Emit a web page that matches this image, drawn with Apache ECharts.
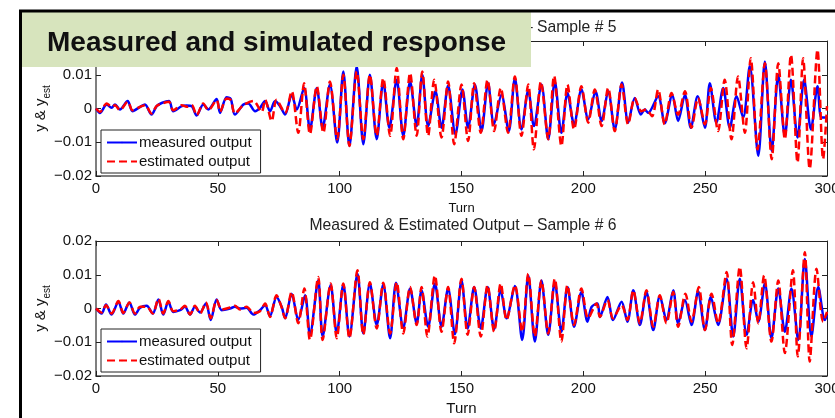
<!DOCTYPE html>
<html>
<head>
<meta charset="utf-8">
<script src="https://cdn.jsdelivr.net/npm/echarts@6/dist/echarts.min.js"></script>
<style>
  html, body { margin: 0; padding: 0; background: #fff; }
  #chart { width: 835px; height: 418px; }
</style>
</head>
<body>
<div id="chart"></div>
<script>
// turn, value in units of 1e-3 (peaks and troughs)
const s5Measured = [
  [0,0],[1.6,-1.3],[4.4,1.2],[6.4,0.2],[7.8,1.2],[9.8,-0.3],[13.0,2.2],[15.0,-0.8],[18.1,0.5],[20.1,1.2],
  [22.8,-1.8],[24.9,0.7],[27.2,1.7],[30.0,2.2],[31.7,-0.8],[35.2,0.7],[37.2,0.9],[39.3,0.7],[41.3,-2.1],[44.0,1.2],
  [46.1,-0.3],[49.5,2.8],[50.9,-1.3],[53.6,3.3],[55.3,2.8],[57.0,-1.8],[60.5,1.2],[62.5,1.5],[65.3,-0.8],[67.3,0.2],
  [69.4,2.2],[71.4,-0.8],[73.5,2.2],[75.5,0.7],[77.6,-1.8],[80.3,4.1],[82.4,-0.3],[85.4,6.1],[87.8,-6.2],[90.6,6.1],
  [93.0,-5.7],[96.0,7.1],[99.0,-10.1],[101.5,11.0],[104.0,-11.1],[107.0,12.5],[109.7,-10.6],[112.4,10.0],[115.2,-9.1],[117.9,8.0],
  [120.4,-5.7],[123.4,8.5],[126.1,-8.1],[128.9,8.0],[131.6,-5.2],[133.9,10.0],[136.3,-5.2],[139.3,5.1],[141.8,-5.7],[144.5,6.8],
  [147.5,-7.6],[150.4,5.6],[152.7,-5.7],[155.5,7.1],[158.2,-6.7],[160.9,7.5],[163.3,-4.7],[166.4,4.1],[169.4,-6.7],[171.9,9.0],
  [174.6,-6.2],[177.4,5.4],[179.7,-5.2],[182.8,7.1],[185.6,-9.1],[188.3,8.0],[191.0,-7.2],[193.5,4.6],[196.2,-4.7],[199.2,5.6],
  [202.0,-3.2],[205.0,5.1],[207.5,-3.7],[210.2,5.1],[212.9,-6.2],[215.9,7.7],[218.4,-4.2],[221.1,3.1],[223.6,-1.8],[225.2,-0.3],
  [226.6,-1.3],[230.7,3.6],[233.4,-4.4],[236.5,4.1],[238.9,-3.7],[241.7,4.1],[244.1,-5.7],[246.9,3.6],[249.9,-5.7],[251.9,7.5],
  [254.6,-4.2],[257.4,6.1],[260.1,-5.7],[262.9,3.6],[265.6,-2.7],[268.3,12.5],[271.8,-14.0],[274.5,13.9],[277.3,-12.5],[280.0,10.0],
  [282.7,-8.1],[285.2,8.5],[287.9,-8.6],[290.6,8.5],[293.4,-6.2],[296.1,6.6],[297.7,-2.7],[300,-2.7]
]
const s5Estimated = [
  [0,0],[1.6,-1.0],[4.4,1.5],[6.4,0.5],[7.8,1.0],[9.8,-0.5],[13.0,2.0],[15.0,-0.5],[18.1,0.5],[20.1,1.0],
  [22.8,-1.5],[24.9,0.8],[27.2,1.5],[30.0,2.0],[31.7,-0.5],[35.2,1.0],[37.2,0.5],[39.3,1.0],[41.3,-2.0],[44.0,1.5],
  [46.1,-0.5],[49.5,2.5],[50.9,-1.0],[53.6,3.0],[55.3,2.5],[57.0,-1.5],[60.5,1.0],[64.6,2.2],[68.0,-1.0],[69.4,2.6],
  [72.1,-3.7],[74.1,2.6],[77.6,-1.3],[80.3,5.1],[83.0,-7.2],[85.4,7.5],[87.8,-7.6],[90.6,6.6],[93.3,-7.2],[96.0,8.0],
  [99.0,-9.1],[101.5,10.0],[104.0,-11.1],[107.0,11.0],[109.7,-9.1],[112.4,10.0],[115.2,-8.1],[117.9,9.0],[120.7,-8.1],[123.4,12.0],
  [126.1,-9.1],[128.9,10.5],[131.6,-8.1],[133.9,11.0],[136.3,-8.1],[138.8,8.5],[141.8,-8.6],[144.5,8.0],[147.0,-10.6],[150.0,7.1],
  [152.7,-9.6],[155.2,7.5],[157.9,-7.2],[160.7,8.5],[163.4,-6.7],[166.1,6.1],[169.1,-7.2],[171.9,9.5],[174.6,-8.1],[177.4,7.1],
  [179.7,-12.1],[182.6,8.0],[185.6,-9.1],[188.0,9.7],[191.0,-11.1],[193.5,7.1],[196.2,-6.2],[199.2,6.6],[202.0,-4.2],[204.7,5.6],
  [207.5,-5.2],[210.2,6.1],[212.9,-6.7],[215.7,7.1],[218.4,-4.7],[221.1,3.1],[223.8,-0.8],[225.8,-0.3],[228.2,-2.3],[230.7,5.6],
  [233.4,-4.7],[236.2,4.6],[238.9,-1.8],[241.7,5.1],[244.4,-5.7],[247.1,3.1],[249.9,-4.7],[252.3,6.1],[255.3,-6.7],[258.0,8.5],
  [260.8,-9.1],[263.5,9.5],[266.3,-7.2],[268.7,14.9],[271.5,-12.1],[274.5,13.4],[277.3,-15.0],[280.0,13.4],[282.7,-9.1],[285.2,15.9],
  [287.9,-16.0],[290.2,14.9],[292.9,-17.9],[296.1,17.4],[298.4,-15.0],[300,0.7]
]
const s6Measured = [
  [0,0],[2.3,-1.5],[4.1,1.2],[6.4,-1.8],[9.2,2.0],[11.2,-1.5],[13.7,1.8],[16.0,-1.8],[18.1,0.2],[20.8,0.8],
  [23.3,-1.5],[25.6,2.7],[27.6,-1.8],[29.7,2.0],[31.7,-1.0],[34.5,-0.5],[36.5,0.5],[38.6,-1.8],[40.6,0.5],[42.7,-1.2],
  [45.1,1.5],[47.1,-3.4],[49.5,2.7],[51.6,-0.5],[55.0,0],[57.0,0.5],[59.1,0],[61.8,0.2],[64.6,-1.8],[67.3,-0.5],
  [69.4,1.0],[71.4,-2.2],[74.1,3.4],[76.2,0.5],[77.6,-2.9],[80.3,4.4],[83.0,-3.4],[85.8,3.9],[87.8,-7.8],[91.2,8.3],
  [93.0,-8.3],[96.3,6.9],[98.8,-7.4],[101.5,7.1],[104.0,-8.3],[107.3,10.3],[109.7,-7.4],[112.4,7.4],[115.2,-4.9],[117.9,7.1],
  [120.7,-8.8],[123.1,7.6],[126.1,-5.7],[128.9,5.9],[131.6,-4.4],[133.6,5.4],[136.3,-5.4],[139.1,7.4],[141.8,-5.4],[144.5,5.9],
  [147.3,-7.6],[150.0,8.3],[152.5,-5.9],[155.2,6.4],[157.9,-5.9],[160.7,6.4],[163.4,-6.1],[166.1,5.4],[168.5,-2.9],[171.9,6.7],
  [174.9,-9.3],[177.4,9.8],[180.1,-9.8],[182.8,8.3],[185.6,-7.8],[188.3,7.8],[191.0,-6.9],[193.5,6.4],[196.2,-5.4],[199.2,4.9],
  [201.7,-3.9],[203.4,0.5],[205.8,1.5],[206.8,-2.5],[209.9,3.4],[212.2,-3.4],[215.7,2.0],[218.1,-3.9],[220.5,5.4],[223.2,-4.9],
  [225.9,4.9],[228.7,-6.4],[231.4,3.7],[234.1,-3.4],[236.9,5.4],[238.9,-4.4],[241.7,2.5],[244.4,-4.9],[247.1,5.1],[249.9,-6.4],
  [252.3,3.4],[255.3,-4.9],[258.8,8.8],[261.5,-8.3],[264.2,8.8],[267.0,-7.8],[269.7,2.5],[271.8,-3.9],[274.5,7.4],[277.2,-8.8],
  [280.0,5.9],[282.7,-6.9],[285.4,5.9],[288.2,-9.3],[290.9,14.7],[293.6,-8.3],[296.4,6.4],[299.1,-3.4],[300,-2.0]
]
const s6Estimated = [
  [0,0],[2.3,-1.2],[4.1,1.0],[6.4,-1.5],[9.2,2.2],[11.2,-1.3],[13.7,1.8],[16.0,-1.5],[18.1,0.5],[20.8,0.5],
  [23.3,-1.5],[25.6,2.9],[27.6,-1.5],[29.7,2.2],[31.7,-0.8],[34.5,-0.3],[36.5,0.8],[38.6,-1.8],[40.6,0.8],[42.7,-1.5],
  [45.1,1.8],[47.1,-2.9],[49.5,2.5],[51.6,-0.3],[55.0,0.3],[57.0,0.8],[59.1,-0.3],[61.8,0.5],[64.6,-1.3],[67.3,-0.8],
  [69.4,1.5],[71.4,-2.5],[74.1,3.9],[76.2,0.3],[77.6,-2.9],[80.3,4.9],[83.0,-4.4],[85.5,5.9],[87.8,-9.3],[91.2,9.3],
  [93.0,-9.3],[96.3,7.4],[98.8,-8.8],[101.5,7.4],[104.0,-8.8],[107.3,11.3],[109.7,-7.8],[112.4,7.8],[115.2,-5.9],[117.9,7.6],
  [120.7,-7.4],[123.4,7.8],[126.1,-7.4],[128.9,6.4],[131.6,-4.9],[133.6,6.4],[136.0,-8.3],[139.1,9.8],[141.8,-6.9],[144.5,6.4],
  [147.0,-10.3],[150.0,8.8],[152.5,-7.8],[155.2,6.4],[157.9,-8.3],[160.7,6.9],[163.4,-6.9],[166.1,7.4],[168.5,-3.4],[171.9,6.9],
  [174.9,-6.9],[177.4,10.3],[180.1,-8.3],[182.8,8.3],[185.6,-7.4],[188.3,8.8],[191.0,-9.8],[193.5,6.9],[196.2,-4.9],[199.2,5.9],
  [202.0,-2.9],[205.4,1.5],[206.8,-2.5],[209.9,2.5],[212.2,-2.9],[215.7,1.0],[218.1,-3.4],[220.5,5.4],[223.2,-4.4],[225.9,5.4],
  [228.7,-5.4],[231.4,3.9],[234.1,-4.4],[236.9,4.9],[238.9,-5.4],[241.9,4.4],[244.4,-3.9],[247.4,6.4],[249.9,-6.4],[252.6,4.4],
  [255.3,-4.4],[258.8,10.8],[261.1,-10.8],[264.2,12.3],[267.0,-11.8],[269.7,7.8],[271.8,-4.4],[274.2,9.8],[277.2,-9.8],[280.0,8.3],
  [282.7,-13.2],[286.0,11.3],[288.0,-14.2],[290.9,16.7],[292.9,-15.7],[295.7,11.8],[298.4,-3.9],[300,-1.0]
]
const xTicks = { min: 0, max: 300, interval: 50 }
const yTicks = { min: -0.02, max: 0.02, interval: 0.01 }
const seriesNames = ['measured output', 'estimated output']
const plotTitles = ['Measured & Estimated Output \u2013 Sample # 5', 'Measured & Estimated Output \u2013 Sample # 6']
const slideTitle = 'Measured and simulated response'

const toUnits = arr => arr.map(p => [p[0], p[1] / 1000])
const FONT = 'Liberation Sans, Arial, sans-serif'
const AX = '#222'
const AX_LOW = '#555'

const chart = echarts.init(document.getElementById('chart'))

const grids = [
  { left: 96, right: 8, top: 41, height: 135, outerBoundsMode: 'none', containLabel: false },
  { left: 96, right: 8, top: 241, height: 135, outerBoundsMode: 'none', containLabel: false }
]

function xAxes(g) {
  return [
    {
      type: 'value', gridIndex: g, min: xTicks.min, max: xTicks.max, interval: xTicks.interval,
      name: 'Turn', nameLocation: 'middle', nameGap: g === 0 ? 26 : 25, nameMoveOverlap: false,
      nameTextStyle: { color: '#111', fontSize: g === 0 ? 13 : 15, fontFamily: FONT },
      axisLine: { onZero: false, lineStyle: { color: AX_LOW, width: 1.5 } },
      axisTick: { inside: true, length: 5, lineStyle: { color: AX } },
      axisLabel: { color: '#111', fontSize: 15, fontFamily: FONT, margin: 5 },
      splitLine: { show: false }
    },
    {
      type: 'value', gridIndex: g, position: 'top', min: xTicks.min, max: xTicks.max, interval: xTicks.interval,
      axisLine: { onZero: false, lineStyle: { color: AX, width: 1 } },
      axisTick: { inside: true, length: 5, lineStyle: { color: AX } },
      axisLabel: { show: false },
      splitLine: { show: false }
    }
  ]
}

function yAxes(g) {
  return [
    {
      type: 'value', gridIndex: g, min: yTicks.min, max: yTicks.max, interval: yTicks.interval,
      name: '{a|y & y}{b|est}', nameLocation: 'middle', nameGap: 44, nameMoveOverlap: false,
      nameTextStyle: {
        color: '#111', fontFamily: FONT,
        rich: {
          a: { fontSize: 15, fontFamily: FONT, color: '#111', lineHeight: 22 },
          b: { fontSize: 10, fontFamily: FONT, color: '#111', lineHeight: 22, verticalAlign: 'bottom', padding: [6, 0, 0, 0] }
        }
      },
      axisLine: { onZero: false, lineStyle: { color: AX_LOW, width: 1.5 } },
      axisTick: { inside: true, length: 5, lineStyle: { color: AX } },
      axisLabel: {
        color: '#111', fontSize: 15, fontFamily: FONT, margin: 4,
        formatter: v => (Math.abs(v) < 1e-9 ? '0' : v.toFixed(2).replace('-', '\u2212'))
      },
      splitLine: { show: false }
    },
    {
      type: 'value', gridIndex: g, position: 'right', min: yTicks.min, max: yTicks.max, interval: yTicks.interval,
      axisLine: { onZero: false, lineStyle: { color: AX, width: 1 } },
      axisTick: { inside: true, length: 5, lineStyle: { color: AX } },
      axisLabel: { show: false },
      splitLine: { show: false }
    }
  ]
}

function lineSeries(name, data, g, red) {
  return {
    name: name, type: 'line', xAxisIndex: g * 2, yAxisIndex: g * 2,
    data: toUnits(data), symbol: 'none', smooth: 0.3, animation: false,
    lineStyle: red ? { color: '#ff0000', width: 2.5, type: [8, 4] } : { color: '#0000ff', width: 2.5 },
    itemStyle: { color: red ? '#ff0000' : '#0000ff' }
  }
}

function legendAt(top) {
  return {
    data: seriesNames, orient: 'vertical', left: 101, top: top,
    itemWidth: 30, itemHeight: 2, itemGap: 2, padding: [4, 9, 3, 5],
    backgroundColor: '#fff', borderColor: '#222', borderWidth: 1, borderRadius: 0,
    textStyle: { color: '#111', fontSize: 15, fontFamily: FONT, lineHeight: 17, padding: [0, 0, 0, -3] },
    selectedMode: false
  }
}

const option = {
  backgroundColor: '#fff',
  animation: false,
  title: [
    { text: plotTitles[0], left: 458, top: 15, textAlign: 'center', textStyle: { color: '#222', fontSize: 15.7, fontWeight: 'normal', fontFamily: FONT } },
    { text: plotTitles[1], left: 458, top: 213, textAlign: 'center', textStyle: { color: '#222', fontSize: 15.7, fontWeight: 'normal', fontFamily: FONT } }
  ],
  legend: [legendAt(130), legendAt(329)],
  grid: grids,
  xAxis: xAxes(0).concat(xAxes(1)),
  yAxis: yAxes(0).concat(yAxes(1)),
  series: [
    lineSeries(seriesNames[0], s5Measured, 0, false),
    lineSeries(seriesNames[1], s5Estimated, 0, true),
    lineSeries(seriesNames[0], s6Measured, 1, false),
    lineSeries(seriesNames[1], s6Estimated, 1, true)
  ],
  graphic: {
    elements: [
      { type: 'rect', z: 100, shape: { x: 22, y: 12, width: 509, height: 55 }, style: { fill: '#d7e4bd' } },
      { type: 'text', z: 101, style: { text: slideTitle, x: 47, y: 43, verticalAlign: 'middle', fill: '#111', font: 'bold 28px ' + FONT } },
      { type: 'line', z: 102, shape: { x1: 19, y1: 11, x2: 835, y2: 11 }, style: { stroke: '#000', lineWidth: 3 } },
      { type: 'line', z: 102, shape: { x1: 20.5, y1: 10, x2: 20.5, y2: 418 }, style: { stroke: '#000', lineWidth: 3 } }
    ]
  }
}

chart.setOption(option)
</script>
</body>
</html>
